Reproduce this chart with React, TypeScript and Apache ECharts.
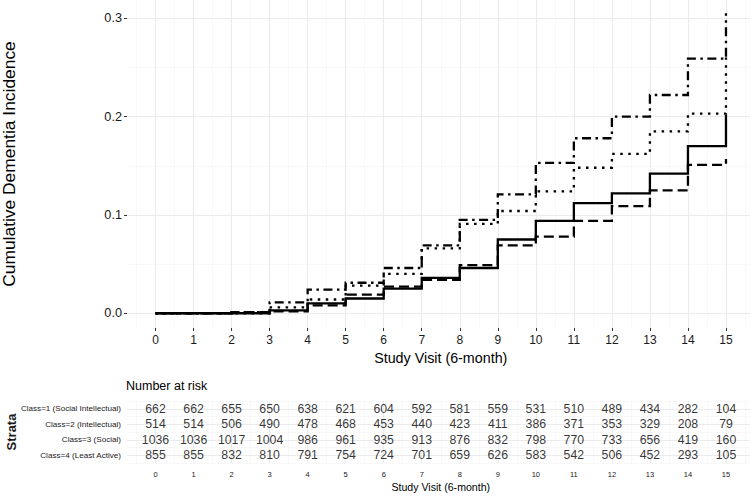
import React, { useEffect, useRef } from "react";
import * as echarts from "echarts";

// ---- Data ----
const visits = [0, 1, 2, 3, 4, 5, 6, 7, 8, 9, 10, 11, 12, 13, 14, 15];
const strata = [
  "Class=1 (Social Intellectual)",
  "Class=2 (Intellectual)",
  "Class=3 (Social)",
  "Class=4 (Least Active)",
];
// cumulative incidence (value holding from visit i to i+1; last = final value at 15)
const incClass1 = [0, 0, 0, 0.003, 0.010, 0.015, 0.025, 0.036, 0.046, 0.075, 0.094, 0.112, 0.122, 0.142, 0.170, 0.202];
const incClass2 = [0, 0, 0.001, 0.002, 0.008, 0.019, 0.027, 0.034, 0.049, 0.069, 0.078, 0.094, 0.109, 0.125, 0.151, 0.157];
const incClass3 = [0, 0, 0, 0.006, 0.014, 0.028, 0.040, 0.066, 0.091, 0.104, 0.124, 0.148, 0.162, 0.185, 0.203, 0.26];
const incClass4 = [0, 0, 0.001, 0.011, 0.024, 0.031, 0.046, 0.069, 0.095, 0.121, 0.153, 0.178, 0.200, 0.222, 0.259, 0.305];
// number at risk
const riskClass1 = [662, 662, 655, 650, 638, 621, 604, 592, 581, 559, 531, 510, 489, 434, 282, 104];
const riskClass2 = [514, 514, 506, 490, 478, 468, 453, 440, 423, 411, 386, 371, 353, 329, 208, 79];
const riskClass3 = [1036, 1036, 1017, 1004, 986, 961, 935, 913, 876, 832, 798, 770, 733, 656, 419, 160];
const riskClass4 = [855, 855, 832, 810, 791, 754, 724, 701, 659, 626, 583, 542, 506, 452, 293, 105];
const yTicks = [0, 0.1, 0.2, 0.3];
const yMinorTicks = [0.05, 0.15, 0.25];

const FONT = "'Liberation Sans', Arial, Helvetica, sans-serif";

export default function App() {
  const ref = useRef<HTMLDivElement>(null);
  useEffect(() => {
    if (!ref.current) return;
    const chart = echarts.init(ref.current, undefined, { renderer: "svg" });
    const incs = [incClass1, incClass2, incClass3, incClass4];
    const risks = [riskClass1, riskClass2, riskClass3, riskClass4];
    const lw = 2.3;
    const dashes: any[] = ["solid", [10, 5], [2.5, 5.5], [2.5, 4.5, 9, 4.5]];
    const halfX: number[] = [];
    for (let i = 0; i <= visits.length; i++) halfX.push(i - 0.5);
    const majorCol = "#ebebeb";
    const minorCol = "#f3f3f3";

    const gridLinesMain = {
      type: "line",
      xAxisIndex: 0,
      yAxisIndex: 0,
      data: [],
      z: 0,
      silent: true,
      markLine: {
        z: 0,
        silent: true,
        symbol: "none",
        label: { show: false },
        animation: false,
        data: [
          ...halfX.map((v) => ({ xAxis: v, lineStyle: { color: minorCol, width: 0.6, type: "solid" } })),
          ...yMinorTicks.map((v) => ({ yAxis: v, lineStyle: { color: minorCol, width: 0.6, type: "solid" } })),
          ...visits.map((v) => ({ xAxis: v, lineStyle: { color: majorCol, width: 1.1, type: "solid" } })),
          ...yTicks.map((v) => ({ yAxis: v, lineStyle: { color: majorCol, width: 1.1, type: "solid" } })),
        ],
      },
    };
    const gridLinesTable = {
      type: "line",
      xAxisIndex: 1,
      yAxisIndex: 1,
      data: [],
      z: 0,
      silent: true,
      markLine: {
        z: 0,
        silent: true,
        symbol: "none",
        label: { show: false },
        animation: false,
        data: [
          ...halfX.map((v) => ({ xAxis: v, lineStyle: { color: minorCol, width: 0.6, type: "solid" } })),
          ...[-0.5, 0.5, 1.5, 2.5, 3.5].map((v) => ({ yAxis: v, lineStyle: { color: minorCol, width: 0.6, type: "solid" } })),
          ...visits.map((v) => ({ xAxis: v, lineStyle: { color: majorCol, width: 1.1, type: "solid" } })),
          ...[0, 1, 2, 3].map((v) => ({ yAxis: v, lineStyle: { color: majorCol, width: 1.1, type: "solid" } })),
        ],
      },
    };

    const lineSeries = incs.map((arr, k) => ({
      name: strata[k],
      type: "line",
      xAxisIndex: 0,
      yAxisIndex: 0,
      step: "end",
      symbol: "none",
      z: 3,
      data: visits.map((t, i) => [t, arr[i]]),
      lineStyle: { color: "#000", width: lw, type: dashes[k], cap: "butt", join: "miter" },
    }));

    const tableData: any[] = [];
    risks.forEach((arr, r) => visits.forEach((t, i) => tableData.push([t, r, arr[i]])));

    const option: any = {
      animation: false,
      backgroundColor: "#ffffff",
      title: {
        text: "Number at risk",
        left: 121,
        top: 374,
        textStyle: { fontFamily: FONT, fontSize: 12.5, fontWeight: "normal", color: "#000" },
      },
      grid: [
        { left: 127, width: 627.5, top: 0, height: 328, outerBoundsMode: "none", containLabel: false },
        { left: 127, width: 627.5, top: 401, height: 62, outerBoundsMode: "none", containLabel: false },
      ],
      xAxis: [
        {
          type: "value",
          gridIndex: 0,
          min: -0.75,
          max: 15.75,
          name: "Study Visit (6-month)",
          nameLocation: "middle",
          nameGap: 18,
          nameTextStyle: { fontFamily: FONT, fontSize: 14.3, color: "#000" },
          axisLine: { show: false, onZero: false },
          splitLine: { show: false },
          axisTick: { show: true, customValues: visits, length: 3, lineStyle: { color: "#333" } },
          axisLabel: { customValues: visits, fontFamily: FONT, fontSize: 12, color: "#1a1a1a", margin: 6 },
        },
        {
          type: "value",
          gridIndex: 1,
          min: -0.75,
          max: 15.75,
          name: "Study Visit (6-month)",
          nameLocation: "middle",
          nameGap: 18,
          nameTextStyle: { fontFamily: FONT, fontSize: 10.6, color: "#000" },
          axisLine: { show: false, onZero: false },
          splitLine: { show: false },
          axisTick: { show: false },
          axisLabel: { customValues: visits, fontFamily: FONT, fontSize: 7.5, color: "#1a1a1a", margin: 7 },
        },
      ],
      yAxis: [
        {
          type: "value",
          gridIndex: 0,
          min: -0.015,
          max: 0.3186,
          name: "Cumulative Dementia Incidence",
          nameLocation: "middle",
          nameGap: 109.5,
          nameRotate: 90,
          nameTextStyle: { fontFamily: FONT, fontSize: 17.4, color: "#000" },
          axisLine: { show: false, onZero: false },
          splitLine: { show: false },
          axisTick: { show: true, customValues: yTicks, length: 3, lineStyle: { color: "#333" } },
          axisLabel: {
            customValues: yTicks,
            fontFamily: FONT,
            fontSize: 12.7,
            color: "#1a1a1a",
            margin: 5,
            formatter: (v: number) => v.toFixed(1),
          },
        },
        {
          type: "value",
          gridIndex: 1,
          min: -0.5,
          max: 3.5,
          inverse: true,
          name: "Strata",
          nameLocation: "middle",
          nameGap: 109.5,
          nameMoveOverlap: false,
          nameRotate: 90,
          nameTextStyle: { fontFamily: FONT, fontSize: 13, fontWeight: "bold", color: "#1a1a1a" },
          axisLine: { show: false, onZero: false },
          splitLine: { show: false },
          axisTick: { show: false },
          axisLabel: {
            customValues: [0, 1, 2, 3],
            fontFamily: FONT,
            fontSize: 8.1,
            color: "#1a1a1a",
            margin: 6,
            formatter: (v: number) => strata[Math.round(v)] ?? "",
          },
        },
      ],
      series: [
        gridLinesMain,
        gridLinesTable,
        ...lineSeries,
        {
          type: "scatter",
          xAxisIndex: 1,
          yAxisIndex: 1,
          symbolSize: 0,
          z: 3,
          data: tableData,
          label: {
            show: true,
            position: "inside",
            formatter: (p: any) => String(p.value[2]),
            fontFamily: FONT,
            fontSize: 12.3,
            color: "#000",
          },
        },
      ],
    };
    chart.setOption(option);
    return () => chart.dispose();
  }, []);
  return (
    <div
      ref={ref}
      style={{ position: "fixed", left: 0, top: 0, width: 750, height: 500, background: "#fff" }}
    />
  );
}
